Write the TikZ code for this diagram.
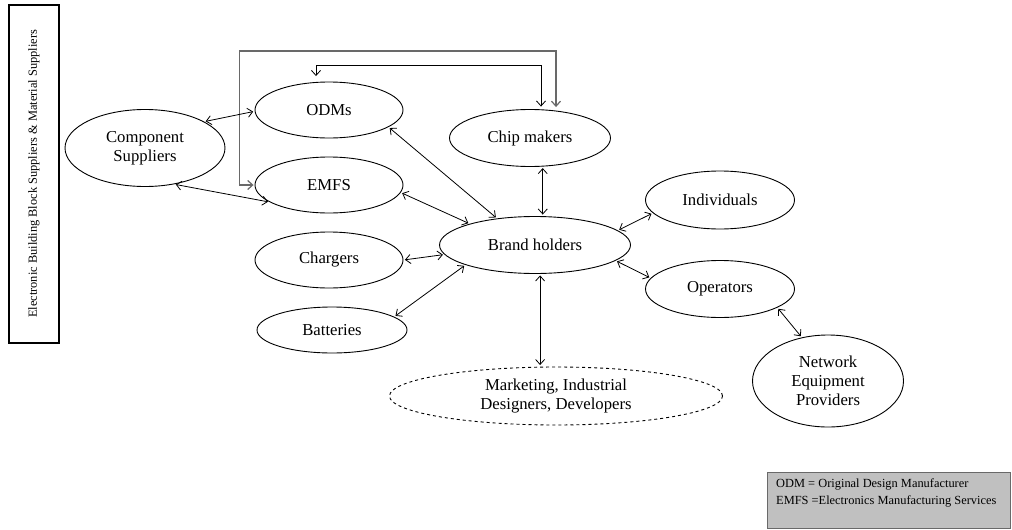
\documentclass[tikz,border=0pt]{standalone}
\usepackage{fontspec}
\setmainfont{Liberation Serif}
\usetikzlibrary{shapes.geometric,arrows.meta,calc}
\definecolor{legendgray}{RGB}{192,192,192}
\definecolor{loopgray}{RGB}{105,105,105}
\begin{document}
\begin{tikzpicture}[x=1pt,y=-1pt,
  actor/.style={draw, ellipse, line width=0.9pt, inner sep=0pt,
    font=\fontsize{16.7}{19}\selectfont, align=center},
  barb/.tip={Straight Barb[length=5pt,width=9pt]},
  link/.style={barb-barb, line width=0.8pt, shorten <=1.5pt, shorten >=1.5pt},
  loopline/.style={barb-barb, draw=loopgray, line width=1.2pt, shorten <=1pt, shorten >=1pt},
  smalltext/.style={font=\fontsize{12.4}{17}\selectfont}
]
\useasboundingbox (0,0) rectangle (1012,530);

% supplier side bar
\node[draw, line width=1.3pt, rotate=90, minimum width=338pt, minimum height=50pt,
      inner sep=0pt, smalltext] (supp) at (34,174)
  {Electronic Building Block Suppliers \& Material Suppliers};

% actors
\node[actor, minimum width=160pt, minimum height=77pt] (comp) at (145,148) {Component\\Suppliers};
\node[actor, minimum width=148pt, minimum height=56pt] (odm)  at (329,110) {ODMs};
\node[actor, minimum width=148pt, minimum height=56pt] (emfs) at (329,185) {EMFS};
\node[actor, minimum width=161pt, minimum height=57pt] (chip) at (530,138) {Chip makers};
\node[actor, minimum width=191pt, minimum height=57pt] (brand) at (535,245) {Brand holders};
\node[actor, minimum width=148pt, minimum height=56pt] (chg)  at (329,260) {Chargers};
\node[actor, minimum width=150pt, minimum height=46pt] (bat)  at (332,330) {Batteries};
\node[actor, minimum width=149pt, minimum height=58pt] (ind)  at (720,200) {Individuals};
\node[actor, minimum width=149pt, minimum height=57pt] (op)   at (720,289) {Operators};
\node[actor, minimum width=151pt, minimum height=92pt] (nep)  at (828,381) {Network\\Equipment\\Providers};
\node[actor, dashed, minimum width=333pt, minimum height=58pt] (mkt) at (556,396)
  {Marketing, Industrial\\Designers, Developers};

% feedback loops into the chip makers
\draw[loopline] ($(chip.north)+(26,-1)$) -- ++(0,-57) -| ($(emfs.west)+(-15,0)$) -- (emfs.west);
\draw[link] ($(chip.north)+(11,-1)$) -- ++(0,-43) -| ($(odm.north)+(-13,-4)$);

% supplier links
\draw[link] (comp.24) -- (odm.181);
\draw[link] (comp.-51) -- (emfs.196);

% links around the brand holders
\draw[link] (odm.-16) -- (brand.145);
\draw[link] (emfs.-6) -- (brand.162);
\draw[link] (chg.east) -- (brand.186);
\draw[link] (bat.12) -- (brand.196);
\draw[link] (chip.-66) -- (chip.-66 |- brand.north);
\draw[link] (brand.-80) -- (brand.-80 |- mkt.north);
\draw[link] (brand.10) -- (ind.191);
\draw[link] (brand.-11) -- (op.171);
\draw[link] (op.-18) -- (nep.121);

% abbreviation legend
\node[draw=loopgray, fill=legendgray, line width=0.8pt, minimum width=243pt, minimum height=56pt,
      inner sep=0pt] (legend) at (888.5,500) {};
\node[smalltext, align=left, anchor=north west, inner sep=0pt] (legendtext) at (776,479)
  {ODM = Original Design Manufacturer\\EMFS =Electronics Manufacturing Services};
\end{tikzpicture}
\end{document}
